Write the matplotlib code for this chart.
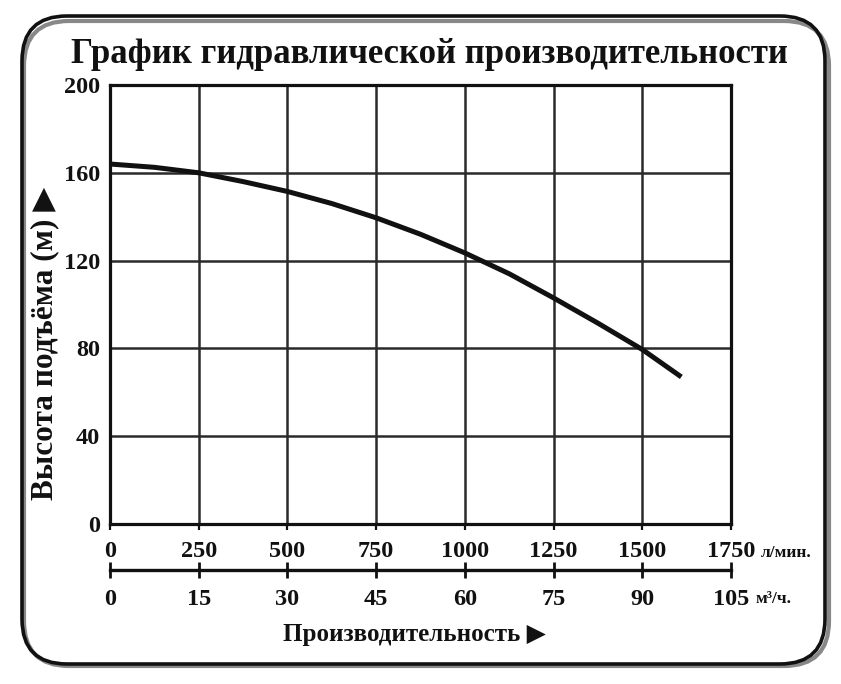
import matplotlib
matplotlib.use("Agg")
import matplotlib.pyplot as plt
from matplotlib.patches import FancyBboxPatch
from matplotlib.transforms import IdentityTransform

# ---- data ----
flow_lmin = [0, 125, 250, 375, 500, 625, 750, 875, 1000, 1125, 1250, 1375, 1500, 1610]
head_m = [164, 162.5, 160, 156, 151.5, 146, 139.5, 132, 123.5, 114, 103, 91.5, 79.5, 67]
x_ticks_lmin = [0, 250, 500, 750, 1000, 1250, 1500, 1750]
x_ticks_m3h = [0, 15, 30, 45, 60, 75, 90, 105]
y_ticks = [0, 40, 80, 120, 160, 200]
title = "График гидравлической производительности"
ylabel = "Высота подъёма (м) ▶"
xlabel = "Производительность ▶"
unit_lmin = "л/мин."
unit_m3h = "м³/ч."

W, H = 841, 684
fig = plt.figure(figsize=(W / 100, H / 100), dpi=100)
fam = ["Liberation Serif", "DejaVu Sans"]
plt.rcParams["font.family"] = fam

def fx(px):
    return px / W

def fy(py):
    return (H - py) / H

# border with shadow
shadow = FancyBboxPatch((24, 18), 805, 645, boxstyle="round,pad=0,rounding_size=45",
                        transform=IdentityTransform(), fill=False, lw=3.0,
                        edgecolor="#888888", zorder=0)
border = FancyBboxPatch((22, 20), 803, 648, boxstyle="round,pad=0,rounding_size=45",
                        transform=IdentityTransform(), fill=False, lw=2.6,
                        edgecolor="#111111", zorder=1)
fig.patches.extend([shadow, border])

# main axes
L, R, T, B = 110, 731, 85, 524
ax = fig.add_axes([fx(L), fy(B), (R - L) / W, (B - T) / H])
ax.plot(flow_lmin, head_m, color="#111111", lw=3.6, solid_capstyle="butt", zorder=3)
ax.set_xlim(0, 1750)
ax.set_ylim(0, 200)
ax.set_xticks(x_ticks_lmin)
ax.set_yticks(y_ticks)
ax.set_xticklabels([str(v) for v in x_ticks_lmin])
ax.set_yticklabels([str(v) for v in y_ticks])
ax.grid(True, color="#2a2a2a", lw=1.8)
ax.set_axisbelow(True)
for s in ax.spines.values():
    s.set_linewidth(2.3)
    s.set_color("#111111")
ax.tick_params(axis="x", direction="out", length=4, width=1.6, pad=8,
               labelsize=17.5, colors="#111111")
ax.tick_params(axis="y", length=0, pad=7, labelsize=17.5, colors="#111111")
for lab in ax.get_xticklabels() + ax.get_yticklabels():
    lab.set_fontweight("bold")
    lab.set_family(fam)

# secondary flow axis (m3/h)
ax2 = fig.add_axes([fx(L), fy(570), (R - L) / W, 0.0001])
ax2.set_xlim(0, 105)
ax2.set_xticks(x_ticks_m3h)
ax2.set_xticklabels([str(v) for v in x_ticks_m3h])
ax2.set_yticks([])
ax2.patch.set_alpha(0)
for k in ["top", "left", "right"]:
    ax2.spines[k].set_visible(False)
ax2.spines["bottom"].set_linewidth(2.4)
ax2.spines["bottom"].set_color("#111111")
ax2.tick_params(axis="x", direction="inout", length=11, width=2.0, pad=8,
                labelsize=17.5, colors="#111111")
for lab in ax2.get_xticklabels():
    lab.set_fontweight("bold")

# texts
fig.text(fx(429), fy(63), title, ha="center", va="baseline", fontsize=25,
         fontweight="bold", color="#111111", family=fam)
fig.text(fx(45), fy(343), ylabel, ha="center", va="center", rotation=90,
         fontsize=22.5, fontweight="bold", color="#111111", family=fam)
fig.text(fx(414), fy(634), xlabel, ha="center", va="center", fontsize=18,
         fontweight="bold", color="#111111", family=fam)
fig.text(fx(761), fy(553), unit_lmin, ha="left", va="center", fontsize=12.5,
         fontweight="bold", color="#111111", family=fam)
fig.text(fx(756), fy(599), unit_m3h, ha="left", va="center", fontsize=12.5,
         fontweight="bold", color="#111111", family=fam)

fig.savefig("out.png", dpi=100, facecolor="white")
